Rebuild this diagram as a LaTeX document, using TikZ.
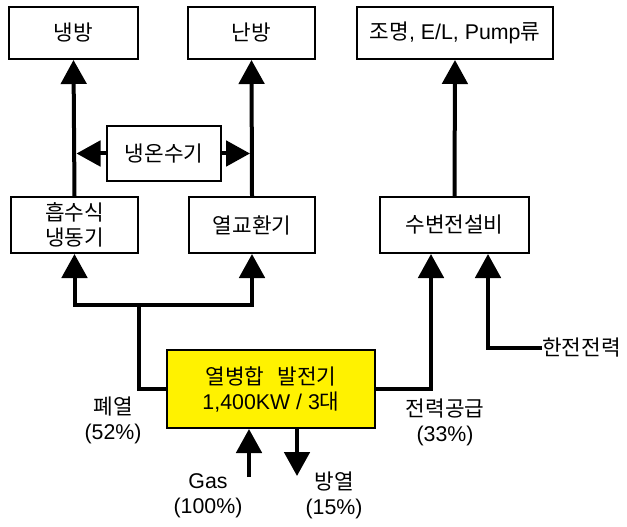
\documentclass[tikz,border=0pt]{standalone}
\usepackage{fontspec}
\setmainfont{Liberation Sans}
\newfontfamily\kr{Noto Sans CJK KR}
\usetikzlibrary{arrows.meta,calc}
\newcommand\myfs{\fontsize{16pt}{18.75pt}\selectfont}
\begin{document}
\begin{tikzpicture}[x=0.75pt,y=-0.75pt,
  box/.style={draw, line width=1.5pt, inner sep=0pt, align=center, font=\myfs},
  flow/.style={line width=3pt},
  arr/.style={flow, -{Triangle[length=18pt,width=19pt]}},
  lbl/.style={align=center, font=\myfs, inner sep=0pt}]
\useasboundingbox (0,0) rectangle (627,527);

% boxes
\node[box, minimum width=129*0.75pt, minimum height=52*0.75pt] (cool) at (73.5,33) {\kr 냉방};
\node[box, minimum width=127*0.75pt, minimum height=52*0.75pt] (heat) at (251.5,33) {\kr 난방};
\node[box, minimum width=196*0.75pt, minimum height=52*0.75pt] (light) at (455,33) {{\kr 조명}, E/L, Pump{\kr 류}};
\node[box, minimum width=114*0.75pt, minimum height=55*0.75pt] (cw) at (164,153.5) {\kr 냉온수기};
\node[box, minimum width=127*0.75pt, minimum height=56*0.75pt] (abs) at (74.5,225) {\kr 흡수식\\\kr 냉동기};
\node[box, minimum width=126*0.75pt, minimum height=56*0.75pt] (hx) at (252,225) {\kr 열교환기};
\node[box, minimum width=149*0.75pt, minimum height=56*0.75pt] (sub) at (454.5,225) {\kr 수변전설비};
\node[box, fill=yellow, minimum width=208*0.75pt, minimum height=78*0.75pt] (chp) at (271,389) {{\kr 열병합\hspace{0.6em}발전기}\\1,400KW / 3{\kr 대}};

% labels
\node[lbl] (waste) at (113,420.5) {{\kr 폐열}\\(52\%)};
\node[lbl] (power) at (445,422) {{\kr 전력공급}\\(33\%)};
\node[lbl] (gas) at (208,495.5) {Gas\\(100\%)};
\node[lbl] (rad) at (334,495.5) {{\kr 방열}\\(15\%)};
\node[lbl, anchor=west] (kepco) at (542,348) {\kr 한전전력};

% junctions
\coordinate (j1) at (139,305);
\coordinate (gs) at (249,477);
\coordinate (rs) at (297,476);
\coordinate (sa) at ($(sub.south)+(-23.5,0)$);
\coordinate (sb) at ($(sub.south)+(33.5,0)$);

% connectors
\draw[arr] (abs.north) -- (cool.south);
\draw[arr] (hx.north) -- (heat.south);
\draw[arr] (sub.north) -- (light.south);
\draw[arr, shorten >=1.5pt] (cw.west) -- (cw.west -| abs.north);
\draw[arr, shorten >=1.5pt] (cw.east) -- (cw.east -| hx.north);
\draw[flow] (chp.west) -| (j1);
\draw[arr] (j1) -| (abs.south);
\draw[arr] (j1) -| (hx.south);
\draw[arr] (chp.east) -| (sa);
\draw[arr] (kepco.west) -| (sb);
\draw[arr] (gs) -- (gs |- chp.south);
\draw[arr] (rs |- chp.south) -- (rs);
\end{tikzpicture}
\end{document}
